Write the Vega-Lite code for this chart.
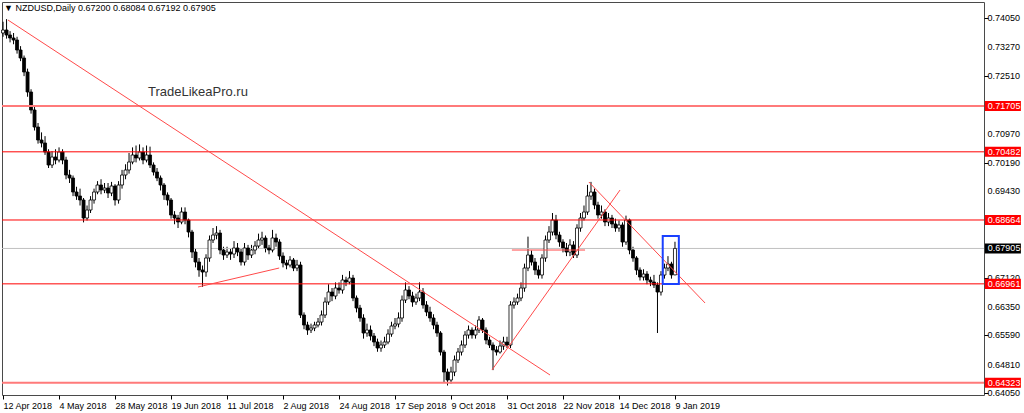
{
  "$schema": "https://vega.github.io/schema/vega-lite/v6.json",
  "width": 982,
  "height": 393,
  "autosize": {"type": "none"},
  "padding": {"left": 2, "top": 2, "right": 40, "bottom": 18},
  "background": "white",
  "config": {
    "view": {"stroke": "#4a4a4a", "strokeWidth": 1},
    "font": "Liberation Sans",
    "axis": {"title": null, "grid": false, "domain": false}
  },
  "datasets": {
    "candles": [
      {"i":0,"o":0.7365,"h":0.7395,"l":0.7355,"c":0.7373},
      {"i":1,"o":0.7373,"h":0.7402,"l":0.735,"c":0.73597},
      {"i":2,"o":0.73597,"h":0.737,"l":0.734,"c":0.73517},
      {"i":3,"o":0.73517,"h":0.7365,"l":0.7335,"c":0.73463},
      {"i":4,"o":0.73463,"h":0.7355,"l":0.731,"c":0.73197},
      {"i":5,"o":0.73197,"h":0.733,"l":0.729,"c":0.72983},
      {"i":6,"o":0.72983,"h":0.7305,"l":0.725,"c":0.7261},
      {"i":7,"o":0.7261,"h":0.727,"l":0.7195,"c":0.72077},
      {"i":8,"o":0.72077,"h":0.7215,"l":0.715,"c":0.71597},
      {"i":9,"o":0.71597,"h":0.717,"l":0.7105,"c":0.71143},
      {"i":10,"o":0.71143,"h":0.7125,"l":0.707,"c":0.70797},
      {"i":11,"o":0.70797,"h":0.71,"l":0.706,"c":0.70717},
      {"i":12,"o":0.70717,"h":0.709,"l":0.704,"c":0.70477},
      {"i":13,"o":0.70477,"h":0.7055,"l":0.7005,"c":0.7013},
      {"i":14,"o":0.7013,"h":0.705,"l":0.7005,"c":0.70343},
      {"i":15,"o":0.70343,"h":0.7055,"l":0.7015,"c":0.70263},
      {"i":16,"o":0.70263,"h":0.706,"l":0.702,"c":0.70477},
      {"i":17,"o":0.70477,"h":0.7055,"l":0.7015,"c":0.70263},
      {"i":18,"o":0.70263,"h":0.7035,"l":0.6975,"c":0.69863},
      {"i":19,"o":0.69863,"h":0.7,"l":0.6965,"c":0.69783},
      {"i":20,"o":0.69783,"h":0.6985,"l":0.693,"c":0.6941},
      {"i":21,"o":0.6941,"h":0.6955,"l":0.692,"c":0.69303},
      {"i":22,"o":0.69303,"h":0.695,"l":0.6905,"c":0.69197},
      {"i":23,"o":0.69197,"h":0.6925,"l":0.686,"c":0.68717},
      {"i":24,"o":0.68717,"h":0.6905,"l":0.6865,"c":0.6893},
      {"i":25,"o":0.6893,"h":0.693,"l":0.6885,"c":0.69197},
      {"i":26,"o":0.69197,"h":0.695,"l":0.691,"c":0.6941},
      {"i":27,"o":0.6941,"h":0.697,"l":0.6935,"c":0.69597},
      {"i":28,"o":0.69597,"h":0.6975,"l":0.6935,"c":0.69463},
      {"i":29,"o":0.69463,"h":0.6965,"l":0.6938,"c":0.69517},
      {"i":30,"o":0.69517,"h":0.6965,"l":0.6925,"c":0.69383},
      {"i":31,"o":0.69383,"h":0.6968,"l":0.693,"c":0.6957},
      {"i":32,"o":0.6957,"h":0.6962,"l":0.6905,"c":0.69197},
      {"i":33,"o":0.69197,"h":0.697,"l":0.691,"c":0.69597},
      {"i":34,"o":0.69597,"h":0.7,"l":0.695,"c":0.69863},
      {"i":35,"o":0.69863,"h":0.7015,"l":0.6975,"c":0.69997},
      {"i":36,"o":0.69997,"h":0.7045,"l":0.699,"c":0.7021},
      {"i":37,"o":0.7021,"h":0.706,"l":0.7015,"c":0.70397},
      {"i":38,"o":0.70397,"h":0.7065,"l":0.702,"c":0.70317},
      {"i":39,"o":0.70317,"h":0.7068,"l":0.7025,"c":0.70477},
      {"i":40,"o":0.70477,"h":0.706,"l":0.7015,"c":0.70263},
      {"i":41,"o":0.70263,"h":0.7065,"l":0.702,"c":0.70397},
      {"i":42,"o":0.70397,"h":0.7062,"l":0.7005,"c":0.7013},
      {"i":43,"o":0.7013,"h":0.702,"l":0.6985,"c":0.69943},
      {"i":44,"o":0.69943,"h":0.7005,"l":0.697,"c":0.69783},
      {"i":45,"o":0.69783,"h":0.6985,"l":0.6945,"c":0.69597},
      {"i":46,"o":0.69597,"h":0.6965,"l":0.692,"c":0.6933},
      {"i":47,"o":0.6933,"h":0.694,"l":0.6905,"c":0.69197},
      {"i":48,"o":0.69197,"h":0.6925,"l":0.687,"c":0.68797},
      {"i":49,"o":0.68797,"h":0.689,"l":0.6855,"c":0.68717},
      {"i":50,"o":0.68717,"h":0.688,"l":0.6845,"c":0.6861},
      {"i":51,"o":0.6861,"h":0.69,"l":0.6855,"c":0.68877},
      {"i":52,"o":0.68877,"h":0.69,"l":0.6855,"c":0.68663},
      {"i":53,"o":0.68663,"h":0.687,"l":0.682,"c":0.68343},
      {"i":54,"o":0.68343,"h":0.684,"l":0.6765,"c":0.6781},
      {"i":55,"o":0.6781,"h":0.679,"l":0.674,"c":0.67543},
      {"i":56,"o":0.67543,"h":0.6765,"l":0.6715,"c":0.6733},
      {"i":57,"o":0.6733,"h":0.6745,"l":0.6688,"c":0.67277},
      {"i":58,"o":0.67277,"h":0.6775,"l":0.6715,"c":0.6765},
      {"i":59,"o":0.6765,"h":0.6825,"l":0.6755,"c":0.6813},
      {"i":60,"o":0.6813,"h":0.6845,"l":0.6805,"c":0.68263},
      {"i":61,"o":0.68263,"h":0.685,"l":0.6815,"c":0.68317},
      {"i":62,"o":0.68317,"h":0.684,"l":0.6775,"c":0.67863},
      {"i":63,"o":0.67863,"h":0.6795,"l":0.676,"c":0.6773},
      {"i":64,"o":0.6773,"h":0.6795,"l":0.6765,"c":0.6781},
      {"i":65,"o":0.6781,"h":0.679,"l":0.676,"c":0.67757},
      {"i":66,"o":0.67757,"h":0.681,"l":0.6765,"c":0.67917},
      {"i":67,"o":0.67917,"h":0.6805,"l":0.677,"c":0.6781},
      {"i":68,"o":0.6781,"h":0.679,"l":0.6745,"c":0.67543},
      {"i":69,"o":0.67543,"h":0.6805,"l":0.6745,"c":0.67917},
      {"i":70,"o":0.67917,"h":0.68,"l":0.676,"c":0.6773},
      {"i":71,"o":0.6773,"h":0.68,"l":0.6765,"c":0.67863},
      {"i":72,"o":0.67863,"h":0.681,"l":0.6775,"c":0.6797},
      {"i":73,"o":0.6797,"h":0.683,"l":0.679,"c":0.6813},
      {"i":74,"o":0.6813,"h":0.6835,"l":0.68,"c":0.68183},
      {"i":75,"o":0.68183,"h":0.6825,"l":0.678,"c":0.67917},
      {"i":76,"o":0.67917,"h":0.68,"l":0.6775,"c":0.67863},
      {"i":77,"o":0.67863,"h":0.684,"l":0.678,"c":0.68183},
      {"i":78,"o":0.68183,"h":0.683,"l":0.6795,"c":0.68077},
      {"i":79,"o":0.68077,"h":0.6815,"l":0.676,"c":0.67703},
      {"i":80,"o":0.67703,"h":0.678,"l":0.674,"c":0.67517},
      {"i":81,"o":0.67517,"h":0.676,"l":0.6735,"c":0.67463},
      {"i":82,"o":0.67463,"h":0.677,"l":0.674,"c":0.67597},
      {"i":83,"o":0.67597,"h":0.6765,"l":0.673,"c":0.67383},
      {"i":84,"o":0.67383,"h":0.676,"l":0.673,"c":0.67463},
      {"i":85,"o":0.67463,"h":0.6755,"l":0.6605,"c":0.6613},
      {"i":86,"o":0.6613,"h":0.662,"l":0.6575,"c":0.65863},
      {"i":87,"o":0.65863,"h":0.6595,"l":0.656,"c":0.6573},
      {"i":88,"o":0.6573,"h":0.659,"l":0.6565,"c":0.65783},
      {"i":89,"o":0.65783,"h":0.6595,"l":0.657,"c":0.65863},
      {"i":90,"o":0.65863,"h":0.6605,"l":0.658,"c":0.65943},
      {"i":91,"o":0.65943,"h":0.6625,"l":0.6585,"c":0.6613},
      {"i":92,"o":0.6613,"h":0.666,"l":0.6605,"c":0.66477},
      {"i":93,"o":0.66477,"h":0.6695,"l":0.664,"c":0.66743},
      {"i":94,"o":0.66743,"h":0.6685,"l":0.665,"c":0.66637},
      {"i":95,"o":0.66637,"h":0.67,"l":0.6655,"c":0.6685},
      {"i":96,"o":0.6685,"h":0.67,"l":0.667,"c":0.66797},
      {"i":97,"o":0.66797,"h":0.672,"l":0.667,"c":0.67063},
      {"i":98,"o":0.67063,"h":0.6715,"l":0.669,"c":0.6701},
      {"i":99,"o":0.6701,"h":0.673,"l":0.6695,"c":0.67117},
      {"i":100,"o":0.67117,"h":0.672,"l":0.665,"c":0.66583},
      {"i":101,"o":0.66583,"h":0.6665,"l":0.662,"c":0.66317},
      {"i":102,"o":0.66317,"h":0.664,"l":0.6595,"c":0.6605},
      {"i":103,"o":0.6605,"h":0.6615,"l":0.655,"c":0.6565},
      {"i":104,"o":0.6565,"h":0.659,"l":0.6555,"c":0.6573},
      {"i":105,"o":0.6573,"h":0.6585,"l":0.6545,"c":0.6557},
      {"i":106,"o":0.6557,"h":0.6565,"l":0.653,"c":0.6541},
      {"i":107,"o":0.6541,"h":0.655,"l":0.6515,"c":0.6525},
      {"i":108,"o":0.6525,"h":0.6545,"l":0.6515,"c":0.6533},
      {"i":109,"o":0.6533,"h":0.6555,"l":0.6525,"c":0.6541},
      {"i":110,"o":0.6541,"h":0.6575,"l":0.6535,"c":0.65623},
      {"i":111,"o":0.65623,"h":0.6595,"l":0.6555,"c":0.65837},
      {"i":112,"o":0.65837,"h":0.6605,"l":0.6575,"c":0.6589},
      {"i":113,"o":0.6589,"h":0.662,"l":0.658,"c":0.6605},
      {"i":114,"o":0.6605,"h":0.6665,"l":0.6595,"c":0.6653},
      {"i":115,"o":0.6653,"h":0.67,"l":0.6645,"c":0.66797},
      {"i":116,"o":0.66797,"h":0.669,"l":0.6655,"c":0.66637},
      {"i":117,"o":0.66637,"h":0.6675,"l":0.6635,"c":0.66477},
      {"i":118,"o":0.66477,"h":0.667,"l":0.664,"c":0.66583},
      {"i":119,"o":0.66583,"h":0.67,"l":0.665,"c":0.66743},
      {"i":120,"o":0.66743,"h":0.6685,"l":0.663,"c":0.66397},
      {"i":121,"o":0.66397,"h":0.665,"l":0.661,"c":0.6621},
      {"i":122,"o":0.6621,"h":0.6635,"l":0.6595,"c":0.6605},
      {"i":123,"o":0.6605,"h":0.6615,"l":0.6575,"c":0.65863},
      {"i":124,"o":0.65863,"h":0.6595,"l":0.6555,"c":0.6565},
      {"i":125,"o":0.6565,"h":0.657,"l":0.6505,"c":0.65143},
      {"i":126,"o":0.65143,"h":0.652,"l":0.6433,"c":0.6461},
      {"i":127,"o":0.6461,"h":0.647,"l":0.6425,"c":0.64397},
      {"i":128,"o":0.64397,"h":0.6475,"l":0.643,"c":0.6461},
      {"i":129,"o":0.6461,"h":0.6505,"l":0.645,"c":0.6493},
      {"i":130,"o":0.6493,"h":0.6525,"l":0.6485,"c":0.65143},
      {"i":131,"o":0.65143,"h":0.6545,"l":0.6505,"c":0.6533},
      {"i":132,"o":0.6533,"h":0.657,"l":0.6525,"c":0.65597},
      {"i":133,"o":0.65597,"h":0.6585,"l":0.655,"c":0.6573},
      {"i":134,"o":0.6573,"h":0.658,"l":0.655,"c":0.65597},
      {"i":135,"o":0.65597,"h":0.6585,"l":0.655,"c":0.6573},
      {"i":136,"o":0.6573,"h":0.661,"l":0.6565,"c":0.65997},
      {"i":137,"o":0.65997,"h":0.6605,"l":0.6565,"c":0.6573},
      {"i":138,"o":0.6573,"h":0.658,"l":0.6535,"c":0.65463},
      {"i":139,"o":0.65463,"h":0.6555,"l":0.6525,"c":0.6533},
      {"i":140,"o":0.6533,"h":0.654,"l":0.6466,"c":0.65197},
      {"i":141,"o":0.65197,"h":0.653,"l":0.6505,"c":0.65143},
      {"i":142,"o":0.65143,"h":0.6545,"l":0.651,"c":0.65303},
      {"i":143,"o":0.65303,"h":0.6555,"l":0.652,"c":0.6541},
      {"i":144,"o":0.6541,"h":0.6555,"l":0.6525,"c":0.6533},
      {"i":145,"o":0.6533,"h":0.665,"l":0.6525,"c":0.66397},
      {"i":146,"o":0.66397,"h":0.666,"l":0.663,"c":0.66477},
      {"i":147,"o":0.66477,"h":0.667,"l":0.664,"c":0.66583},
      {"i":148,"o":0.66583,"h":0.67,"l":0.665,"c":0.6685},
      {"i":149,"o":0.6685,"h":0.675,"l":0.6675,"c":0.67383},
      {"i":150,"o":0.67383,"h":0.6822,"l":0.673,"c":0.6773},
      {"i":151,"o":0.6773,"h":0.6785,"l":0.6745,"c":0.67543},
      {"i":152,"o":0.67543,"h":0.6765,"l":0.672,"c":0.6733},
      {"i":153,"o":0.6733,"h":0.6745,"l":0.671,"c":0.67197},
      {"i":154,"o":0.67197,"h":0.6775,"l":0.671,"c":0.6765},
      {"i":155,"o":0.6765,"h":0.6825,"l":0.6755,"c":0.6813},
      {"i":156,"o":0.6813,"h":0.685,"l":0.6805,"c":0.68343},
      {"i":157,"o":0.68343,"h":0.6885,"l":0.6825,"c":0.68663},
      {"i":158,"o":0.68663,"h":0.688,"l":0.6815,"c":0.68263},
      {"i":159,"o":0.68263,"h":0.6835,"l":0.6795,"c":0.68077},
      {"i":160,"o":0.68077,"h":0.6815,"l":0.678,"c":0.67917},
      {"i":161,"o":0.67917,"h":0.6805,"l":0.677,"c":0.6781},
      {"i":162,"o":0.6781,"h":0.6815,"l":0.677,"c":0.67997},
      {"i":163,"o":0.67997,"h":0.681,"l":0.6765,"c":0.6773},
      {"i":164,"o":0.6773,"h":0.6855,"l":0.6765,"c":0.6845},
      {"i":165,"o":0.6845,"h":0.6885,"l":0.6835,"c":0.68717},
      {"i":166,"o":0.68717,"h":0.6905,"l":0.6865,"c":0.68877},
      {"i":167,"o":0.68877,"h":0.696,"l":0.688,"c":0.69303},
      {"i":168,"o":0.69303,"h":0.6968,"l":0.692,"c":0.6941},
      {"i":169,"o":0.6941,"h":0.695,"l":0.6895,"c":0.69063},
      {"i":170,"o":0.69063,"h":0.6915,"l":0.687,"c":0.68797},
      {"i":171,"o":0.68797,"h":0.6905,"l":0.687,"c":0.68877},
      {"i":172,"o":0.68877,"h":0.6895,"l":0.685,"c":0.6861},
      {"i":173,"o":0.6861,"h":0.6885,"l":0.685,"c":0.68717},
      {"i":174,"o":0.68717,"h":0.688,"l":0.6845,"c":0.68557},
      {"i":175,"o":0.68557,"h":0.687,"l":0.6835,"c":0.6845},
      {"i":176,"o":0.6845,"h":0.6865,"l":0.6835,"c":0.6853},
      {"i":177,"o":0.6853,"h":0.686,"l":0.6795,"c":0.68077},
      {"i":178,"o":0.68077,"h":0.6878,"l":0.68,"c":0.68663},
      {"i":179,"o":0.68663,"h":0.687,"l":0.6775,"c":0.67863},
      {"i":180,"o":0.67863,"h":0.6795,"l":0.6755,"c":0.6765},
      {"i":181,"o":0.6765,"h":0.677,"l":0.672,"c":0.6733},
      {"i":182,"o":0.6733,"h":0.674,"l":0.6705,"c":0.67143},
      {"i":183,"o":0.67143,"h":0.6735,"l":0.6705,"c":0.67223},
      {"i":184,"o":0.67223,"h":0.673,"l":0.6695,"c":0.67063},
      {"i":185,"o":0.67063,"h":0.6715,"l":0.669,"c":0.6701},
      {"i":186,"o":0.6701,"h":0.672,"l":0.6685,"c":0.6693},
      {"i":187,"o":0.6693,"h":0.67,"l":0.6565,"c":0.66743},
      {"i":188,"o":0.66743,"h":0.673,"l":0.6665,"c":0.67197},
      {"i":189,"o":0.67197,"h":0.675,"l":0.671,"c":0.67383},
      {"i":190,"o":0.67383,"h":0.677,"l":0.673,"c":0.6749},
      {"i":191,"o":0.6749,"h":0.6755,"l":0.671,"c":0.672},
      {"i":192,"o":0.672,"h":0.68084,"l":0.67192,"c":0.67905}
    ],
    "priceTicks": [
      {"p": 0.7405}, {"p": 0.7327}, {"p": 0.7251}, {"p": 0.7097}, {"p": 0.7019}, {"p": 0.6943},
      {"p": 0.6712}, {"p": 0.6635}, {"p": 0.6559}, {"p": 0.6481}, {"p": 0.6405}
    ]
  },
  "layer": [
    {
      "data": {"name": "candles"},
      "mark": {"type": "rule", "color": "#000000", "strokeWidth": 1},
      "encoding": {
        "x": {
          "field": "i", "type": "quantitative",
          "scale": {"domain": [-0.3, 280.3], "nice": false, "zero": false, "padding": 0},
          "axis": {
            "title": null, "grid": false, "domain": false,
            "values": [0, 16, 32, 48, 64, 80, 96, 112, 128, 144, 160, 176, 192],
            "labelExpr": "['12 Apr 2018','4 May 2018','28 May 2018','19 Jun 2018','11 Jul 2018','2 Aug 2018','24 Aug 2018','17 Sep 2018','9 Oct 2018','31 Oct 2018','22 Nov 2018','14 Dec 2018','9 Jan 2019'][round(datum.value/16)]",
            "labelAlign": "left", "labelPadding": 2, "tickSize": 4, "tickColor": "#000000",
            "labelFontSize": 9, "labelColor": "#000000", "labelFont": "Liberation Sans",
            "labelOverlap": false, "labelFlush": false
          }
        },
        "y": {
          "field": "l", "type": "quantitative",
          "scale": {"domain": [0.63997, 0.74477], "nice": false, "zero": false},
          "axis": {
            "orient": "right", "title": null, "grid": false, "domain": false,
            "values": [0.7405, 0.7327, 0.7251, 0.7097, 0.7019, 0.6943, 0.6712, 0.6635, 0.6559, 0.6481, 0.6405],
            "labels": false, "tickSize": 4, "tickColor": "#000000"
          }
        },
        "y2": {"field": "h"}
      }
    },
    {
      "data": {"values": [{"p": 0.67905}]},
      "mark": {"type": "rule", "color": "#c0c0c0", "strokeWidth": 1},
      "encoding": {"y": {"field": "p", "type": "quantitative"}}
    },
    {
      "data": {"name": "candles"},
      "mark": {"type": "bar", "size": 3, "stroke": "#000000", "strokeWidth": 0.8},
      "encoding": {
        "x": {"field": "i", "type": "quantitative"},
        "y": {"field": "o", "type": "quantitative"},
        "y2": {"field": "c"},
        "fill": {"condition": {"test": "datum.c >= datum.o", "value": "#ffffff"}, "value": "#000000"}
      }
    },
    {
      "data": {"values": [{"p": 0.70482}, {"p": 0.68664}, {"p": 0.66961}]},
      "mark": {"type": "rule", "color": "#ff0000", "strokeWidth": 1},
      "encoding": {"y": {"field": "p", "type": "quantitative"}}
    },
    {
      "data": {"values": [{"p": 0.71705}, {"p": 0.64323}]},
      "mark": {"type": "rule", "color": "#ff7a7a", "strokeWidth": 2},
      "encoding": {"y": {"field": "p", "type": "quantitative"}}
    },
    {
      "data": {"values": [
        {"id": "a", "i": 1.4, "p": 0.73997}, {"id": "a", "i": 156.3, "p": 0.6453},
        {"id": "b", "i": 55.7, "p": 0.66877}, {"id": "b", "i": 78.9, "p": 0.67383},
        {"id": "c", "i": 139.7, "p": 0.64663}, {"id": "c", "i": 176.3, "p": 0.69463},
        {"id": "d", "i": 167.4, "p": 0.69677}, {"id": "d", "i": 200.6, "p": 0.6645},
        {"id": "e", "i": 145.4, "p": 0.67863}, {"id": "e", "i": 166.3, "p": 0.67863}
      ]},
      "mark": {"type": "line", "color": "#ff4a4a", "strokeWidth": 1},
      "encoding": {
        "x": {"field": "i", "type": "quantitative"},
        "y": {"field": "p", "type": "quantitative"},
        "detail": {"field": "id"}
      }
    },
    {
      "data": {"values": [{"i1": 188.5, "i2": 193.1, "p1": 0.66957, "p2": 0.68237}]},
      "mark": {"type": "rect", "fill": null, "fillOpacity": 0, "stroke": "#1a40ff", "strokeWidth": 2},
      "encoding": {
        "x": {"field": "i1", "type": "quantitative"},
        "x2": {"field": "i2"},
        "y": {"field": "p1", "type": "quantitative"},
        "y2": {"field": "p2"}
      }
    },
    {
      "data": {"values": [{"i": 41.4, "p": 0.72077, "t": "TradeLikeaPro.ru"}]},
      "mark": {"type": "text", "align": "left", "baseline": "middle", "fontSize": 13, "color": "#333333", "font": "Liberation Sans"},
      "encoding": {
        "x": {"field": "i", "type": "quantitative"},
        "y": {"field": "p", "type": "quantitative"},
        "text": {"field": "t"}
      }
    },
    {
      "data": {"values": [{"i": 0.3, "p": 0.74317, "t": "▼ NZDUSD,Daily  0.67200 0.68084 0.67192 0.67905"}]},
      "mark": {"type": "text", "align": "left", "baseline": "middle", "fontSize": 9, "color": "#000000", "font": "Liberation Sans"},
      "encoding": {
        "x": {"field": "i", "type": "quantitative"},
        "y": {"field": "p", "type": "quantitative"},
        "text": {"field": "t"}
      }
    },
    {
      "data": {"name": "priceTicks"},
      "mark": {"type": "text", "align": "left", "baseline": "middle", "fontSize": 9, "color": "#000000", "font": "Liberation Sans"},
      "encoding": {
        "x": {"datum": 281.3, "type": "quantitative"},
        "y": {"field": "p", "type": "quantitative"},
        "text": {"field": "p", "type": "quantitative", "format": ".5f"}
      }
    },
    {
      "data": {"values": [{"i": 285.7, "p": 0.71705}, {"i": 285.7, "p": 0.70482}, {"i": 285.7, "p": 0.68664}, {"i": 285.7, "p": 0.66961}, {"i": 285.7, "p": 0.64323}]},
      "mark": {"type": "point", "filled": true, "opacity": 1, "color": "#ff0000", "strokeWidth": 0, "size": 1296, "shape": "M-1,-0.28H1V0.28H-1Z"},
      "encoding": {
        "x": {"field": "i", "type": "quantitative"},
        "y": {"field": "p", "type": "quantitative"}
      }
    },
    {
      "data": {"values": [{"i": 285.7, "p": 0.67905}]},
      "mark": {"type": "point", "filled": true, "opacity": 1, "color": "#000000", "strokeWidth": 0, "size": 1296, "shape": "M-1,-0.28H1V0.28H-1Z"},
      "encoding": {
        "x": {"field": "i", "type": "quantitative"},
        "y": {"field": "p", "type": "quantitative"}
      }
    },
    {
      "data": {"values": [{"i": 281.4, "p": 0.71705}, {"i": 281.4, "p": 0.70482}, {"i": 281.4, "p": 0.68664}, {"i": 281.4, "p": 0.67905}, {"i": 281.4, "p": 0.66961}, {"i": 281.4, "p": 0.64323}]},
      "mark": {"type": "text", "align": "left", "baseline": "middle", "fontSize": 9, "color": "#ffffff", "font": "Liberation Sans"},
      "encoding": {
        "x": {"field": "i", "type": "quantitative"},
        "y": {"field": "p", "type": "quantitative"},
        "text": {"field": "p", "type": "quantitative", "format": ".5f"}
      }
    }
  ]
}
